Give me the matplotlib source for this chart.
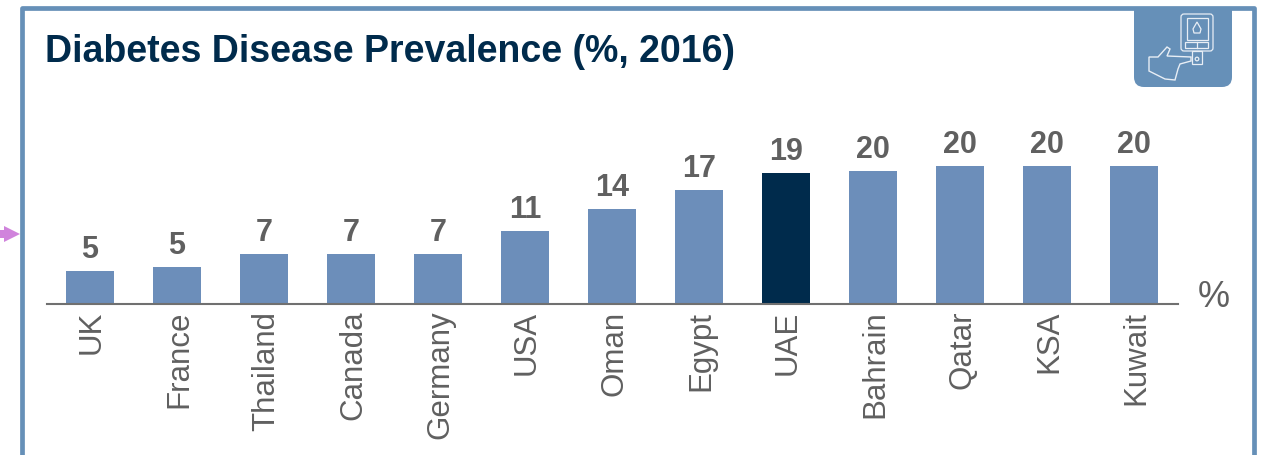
"""Diabetes prevalence bar chart"""
import matplotlib.pyplot as plt
from matplotlib.patches import FancyBboxPatch, Polygon, Rectangle, Circle
from matplotlib.transforms import ScaledTranslation

plt.rcParams['font.family'] = ['Liberation Sans', 'DejaVu Sans']

countries = ["UK", "France", "Thailand", "Canada", "Germany", "USA", "Oman",
             "Egypt", "UAE", "Bahrain", "Qatar", "KSA", "Kuwait"]
values = [4.8, 5.3, 7.2, 7.2, 7.2, 10.6, 13.8, 16.5, 19.0, 19.3, 20, 20, 20]
labels = ["5", "5", "7", "7", "7", "11", "14", "17", "19", "20", "20", "20",
          "20"]

W, H = 1264, 456
BLUE = "#6C8EBA"
DARK = "#002B4C"
FRAME = "#6690B8"
GREY = "#606060"

fig = plt.figure(figsize=(W / 100, H / 100), dpi=100)

# overlay in pixel coordinates for frame, title and icon
bg = fig.add_axes([0, 0, 1, 1])
bg.set_xlim(0, W)
bg.set_ylim(H, 0)
bg.axis("off")

bg.plot([22, 22, 1254, 1254], [460, 9, 9, 460], color=FRAME, lw=3.4,
        solid_joinstyle="round")
bg.text(45, 52, "Diabetes Disease Prevalence (%, 2016)", fontsize=27,
        fontweight="bold", color=DARK, ha="left", va="center")

# arrow on the left edge
bg.add_patch(Rectangle((0, 231), 5, 8, color="#D083DC", lw=0))
bg.add_patch(Polygon([[4, 227], [20, 235], [4, 243]], color="#D083DC", lw=0))

# icon tab, top part cut off by the frame
tab = FancyBboxPatch((1134, -10), 98, 98,
                     boxstyle="round,pad=0,rounding_size=10",
                     fc=FRAME, ec="none")
bg.add_patch(tab)
tab.set_clip_path(Rectangle((1100, 9), 160, 100, transform=bg.transData))

white = "#E8EEF5"
bg.add_patch(FancyBboxPatch((1181, 15), 32, 37,
                            boxstyle="round,pad=0,rounding_size=3",
                            fc="none", ec=white, lw=0.9))
bg.add_patch(Rectangle((1187, 19), 21, 22, fc="none", ec=white, lw=0.9))
bg.add_patch(Rectangle((1185, 43), 23, 6, fc="none", ec=white, lw=0.9))
bg.plot([1197, 1197], [43, 49], color=white, lw=0.9)
bg.add_patch(Rectangle((1192, 52), 10, 13, fc="none", ec=white, lw=0.9))
bg.add_patch(Circle((1197, 60), 1.8, fc="none", ec=white, lw=0.9))
bg.add_patch(Polygon([[1197, 23], [1201, 30], [1200, 34], [1194, 34],
                      [1193, 30]], fc="none", ec=white, lw=0.9))
bg.add_patch(Polygon([[1149, 58], [1158, 58], [1167, 48], [1170, 50],
                      [1167, 57], [1191, 58], [1191, 62], [1180, 65],
                      [1178, 70], [1175, 81], [1165, 80], [1149, 72]],
                     fc="none", ec=white, lw=1.0))

# bar chart
ax = fig.add_axes([46.5 / W, 1 - 305 / H, 1131 / W, 161 / H])
ax.patch.set_alpha(0)
colors = [DARK if c == "UAE" else BLUE for c in countries]
bars = ax.bar(range(len(countries)), values, width=0.55, color=colors)
ax.set_xlim(-0.5, 12.5)
ax.set_ylim(0, 161 / 6.9)
for bar, lab in zip(bars, labels):
    ax.annotate(lab, (bar.get_x() + bar.get_width() / 2, bar.get_height()),
                xytext=(0, 5), textcoords="offset points", ha="center",
                va="bottom", fontsize=22, fontweight="bold", color=GREY)

for side in ["top", "left", "right"]:
    ax.spines[side].set_visible(False)
ax.spines["bottom"].set_color("#707070")
ax.spines["bottom"].set_linewidth(1.5)
ax.set_yticks([])
ax.set_xticks(range(len(countries)), countries, rotation=90, fontsize=22.5,
              color=GREY)
ax.tick_params(axis="x", length=0, pad=4)

# nudge the rotated names 2px to the right
nudge = ScaledTranslation(2 / 100, 0, fig.dpi_scale_trans)
for tick in ax.get_xticklabels():
    tick.set_transform(tick.get_transform() + nudge)

bg.text(1214, 298, "%", fontsize=26, color=GREY, ha="center", va="center")

plt.savefig("out.png", dpi=100)
